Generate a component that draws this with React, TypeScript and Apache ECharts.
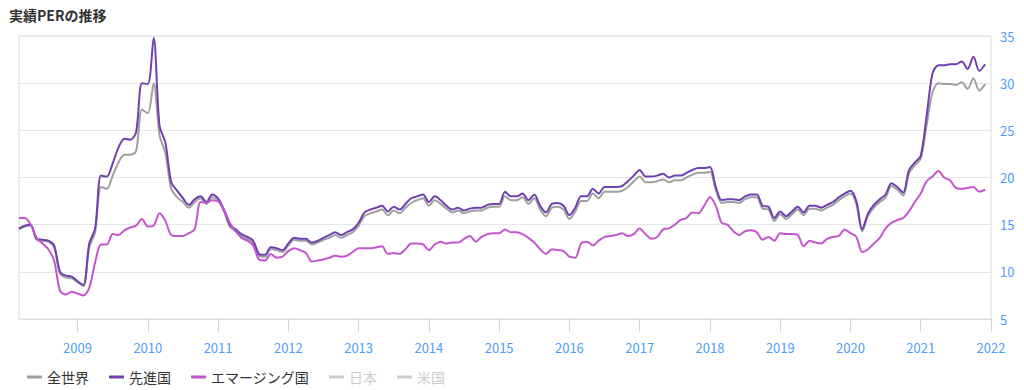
import React, { useEffect, useRef } from "react";
import * as echarts from "echarts";

// Monthly categories from 2008-03 to 2022-01 (last category carries no data)
const startYear = 2008;
const startMonth = 3;
const monthCount = 167;
const categories: string[] = [];
for (let i = 0; i < monthCount; i++) {
  const m0 = startMonth - 1 + i;
  const y = startYear + Math.floor(m0 / 12);
  const m = (m0 % 12) + 1;
  categories.push(`${y}-${m < 10 ? "0" + m : m}`);
}

const yearLabels = ["2009", "2010", "2011", "2012", "2013", "2014", "2015", "2016", "2017", "2018", "2019", "2020", "2021", "2022"];

const world = [
  14.5, 14.8, 14.9, 13.4, 13.3, 13.2, 12.6, 9.8, 9.4, 9.3,
  8.9, 8.5, 12.6, 14.2, 19.0, 18.8, 20.2, 21.6, 22.4, 22.4,
  22.8, 27.2, 26.8, 30.0, 24.5, 22.6, 18.8, 17.9, 17.4, 16.8,
  17.4, 17.8, 17.2, 17.9, 17.6, 16.4, 14.8, 14.3, 13.8, 13.5,
  13.1, 11.7, 11.6, 12.4, 12.3, 12.1, 12.8, 13.4, 13.3, 13.3,
  12.9, 13.1, 13.4, 13.6, 13.9, 13.6, 13.9, 14.2, 14.9, 15.9,
  16.2, 16.4, 16.6, 16.0, 16.5, 16.2, 16.8, 17.3, 17.6, 17.8,
  17.0, 17.6, 17.2, 16.7, 16.3, 16.5, 16.2, 16.4, 16.5, 16.5,
  16.8, 16.9, 16.9, 18.0, 17.6, 17.6, 17.9, 17.2, 17.8, 16.6,
  15.9, 16.8, 16.9, 16.6, 15.6, 16.4, 17.5, 17.5, 18.3, 17.8,
  18.5, 18.5, 18.5, 18.6, 19.0, 19.6, 20.1, 19.5, 19.5, 19.6,
  19.8, 19.5, 19.7, 19.7, 20.0, 20.3, 20.5, 20.5, 20.6, 18.7,
  17.3, 17.4, 17.4, 17.3, 17.7, 17.9, 17.9, 16.7, 16.6, 15.4,
  16.1, 15.6, 16.1, 16.6, 16.0, 16.7, 16.7, 16.5, 16.8, 17.1,
  17.6, 18.0, 18.3, 17.2, 14.3, 15.9, 16.8, 17.4, 17.9, 19.1,
  18.7, 18.1, 20.4, 21.3, 22.0, 25.5, 29.0, 30.0, 29.9, 29.9,
  29.8, 30.1, 29.4, 30.5, 29.2, 29.9,
];

const developed = [
  14.6, 14.9, 15.0, 13.5, 13.4, 13.3, 12.8, 10.0, 9.6, 9.5,
  9.0, 8.6, 13.0, 14.6, 20.2, 20.1, 21.5, 23.2, 24.1, 24.0,
  24.8, 30.0, 29.9, 34.8, 25.5, 23.7, 19.5, 18.6, 17.8, 17.1,
  17.7, 18.0, 17.4, 18.2, 17.8, 16.6, 15.0, 14.5, 14.0, 13.7,
  13.3, 11.9, 11.8, 12.6, 12.5, 12.3, 13.0, 13.6, 13.5, 13.5,
  13.1, 13.3, 13.6, 13.9, 14.2, 13.9, 14.2, 14.5, 15.2, 16.3,
  16.6, 16.8, 17.0, 16.4, 16.9, 16.6, 17.2, 17.8, 18.0, 18.2,
  17.4, 18.0, 17.6, 17.0, 16.6, 16.8, 16.5, 16.7, 16.8, 16.8,
  17.1, 17.2, 17.2, 18.5, 18.0, 18.0, 18.3, 17.6, 18.2, 17.0,
  16.3, 17.2, 17.3, 17.0, 16.0, 16.8, 18.0, 18.0, 18.8, 18.3,
  19.0, 19.0, 19.0, 19.1, 19.6, 20.2, 20.8, 20.1, 20.1, 20.2,
  20.4, 20.0, 20.2, 20.2, 20.5, 20.8, 21.0, 21.0, 21.1, 19.0,
  17.6, 17.7, 17.7, 17.6, 18.0, 18.2, 18.2, 17.0, 16.9, 15.7,
  16.4, 15.9, 16.4, 16.9, 16.3, 17.0, 17.0, 16.8, 17.1, 17.4,
  17.9, 18.3, 18.6, 17.5, 14.5, 16.2, 17.1, 17.7, 18.2, 19.4,
  19.0, 18.4, 20.8, 21.6, 22.3, 26.5, 31.0, 31.9, 31.9, 32.0,
  32.0, 32.3, 31.5, 32.8, 31.3, 32.0,
];

const emerging = [
  15.7, 15.7, 15.0, 13.6, 13.0, 12.4, 11.2, 8.0, 7.6, 7.9,
  7.7, 7.5, 8.3, 11.0, 12.9, 12.9, 14.0, 13.9, 14.4, 14.7,
  14.9, 15.6, 14.8, 14.9, 16.2, 15.4, 13.9, 13.8, 13.8, 14.1,
  14.5, 17.4, 17.3, 17.6, 17.5, 16.6, 15.2, 14.3, 13.6, 13.3,
  12.8, 11.3, 11.2, 11.9, 11.5, 11.6, 12.2, 12.5, 12.3, 12.0,
  11.1, 11.2, 11.3, 11.5, 11.7, 11.6, 11.7, 12.1, 12.5, 12.5,
  12.5, 12.6, 12.7, 11.9, 12.0, 11.9, 12.4, 13.0, 13.0, 12.9,
  12.3, 12.9, 13.2, 13.0, 13.1, 13.1, 13.5, 13.8, 13.2, 13.7,
  14.0, 14.1, 14.1, 14.5, 14.2, 14.2, 14.0, 13.6, 13.1, 12.4,
  11.9, 12.4, 12.3, 12.2, 11.6, 11.5, 13.0, 13.2, 12.8, 13.3,
  13.7, 13.8, 13.9, 14.1, 13.8, 14.0, 14.6, 14.0, 13.5, 13.7,
  14.5, 14.6, 15.0, 15.5, 15.7, 16.3, 16.2, 17.0, 17.9, 17.0,
  15.2, 15.0, 14.3, 13.9, 14.3, 14.4, 14.2, 13.4, 13.7, 13.3,
  14.1, 14.0, 14.0, 13.9, 12.7, 13.3, 13.1, 13.0, 13.5, 13.7,
  13.8, 14.5, 14.1, 13.7, 12.1, 12.4, 13.0, 13.6, 14.6, 15.2,
  15.5, 15.7, 16.4, 17.4, 18.3, 19.6, 20.1, 20.7, 20.0, 19.7,
  18.9, 18.8, 18.9, 19.0, 18.5, 18.7,
];

const japan: (number | null)[] = [];
const usa: (number | null)[] = [];

const seriesNames = ["全世界", "先進国", "エマージング国", "日本", "米国"];
const seriesColors = ["#a0a0a0", "#7040b0", "#c455cf", "#b0c4de", "#90a0b0"];

const FONT = "'Noto Sans CJK JP', 'Noto Sans', sans-serif";
const LABEL_BLUE = "#4f9df7";

export default function App() {
  const ref = useRef<HTMLDivElement>(null);

  useEffect(() => {
    if (!ref.current) return;
    const chart = echarts.init(ref.current, undefined, { renderer: "svg" });
    const isJan = (_i: number, v: string) => v.endsWith("-01") && yearLabels.includes(v.slice(0, 4));
    const dataSets = [world, developed, emerging, japan, usa];
    chart.setOption({
      animation: false,
      textStyle: { fontFamily: FONT },
      title: {
        text: "実績PERの推移",
        left: 9,
        top: 8,
        padding: 0,
        textStyle: { fontSize: 14, fontWeight: "bold", color: "#333333", fontFamily: FONT },
      },
      legend: {
        left: 27,
        top: 370,
        padding: 0,
        itemGap: 20,
        itemWidth: 15,
        itemHeight: 3,
        icon: "rect",
        data: seriesNames,
        selected: { 日本: false, 米国: false },
        inactiveColor: "#cccccc",
        textStyle: { fontSize: 14, color: "#333333", fontFamily: FONT },
      },
      grid: {
        left: 19,
        right: 33,
        top: 36,
        bottom: 71,
        show: true,
        borderColor: "#dddddd",
        borderWidth: 1,
        containLabel: false,
      },
      xAxis: {
        type: "category",
        data: categories,
        boundaryGap: false,
        axisLine: { show: true, lineStyle: { color: "#dddddd" } },
        axisTick: {
          show: true,
          interval: isJan,
          length: 13,
          lineStyle: { color: "#ccd6eb" },
        },
        axisLabel: {
          interval: isJan,
          formatter: (v: string) => v.slice(0, 4),
          color: LABEL_BLUE,
          fontSize: 13,
          margin: 22,
          fontFamily: FONT,
        },
        splitLine: { show: false },
      },
      yAxis: {
        type: "value",
        position: "right",
        min: 5,
        max: 35,
        interval: 5,
        axisLine: { show: false },
        axisTick: { show: false },
        axisLabel: { color: LABEL_BLUE, fontSize: 13, margin: 9, fontFamily: FONT },
        splitLine: { show: true, lineStyle: { color: "#e6e6e6" } },
      },
      series: seriesNames.map((name, k) => ({
        name,
        type: "line",
        data: dataSets[k],
        smooth: 0.3,
        symbol: "none",
        showSymbol: false,
        color: seriesColors[k],
        lineStyle: { width: 2, color: seriesColors[k] },
      })),
    });
    return () => chart.dispose();
  }, []);

  return (
    <div
      ref={ref}
      style={{ position: "fixed", left: 0, top: 0, width: 1024, height: 390, background: "#ffffff" }}
    />
  );
}
